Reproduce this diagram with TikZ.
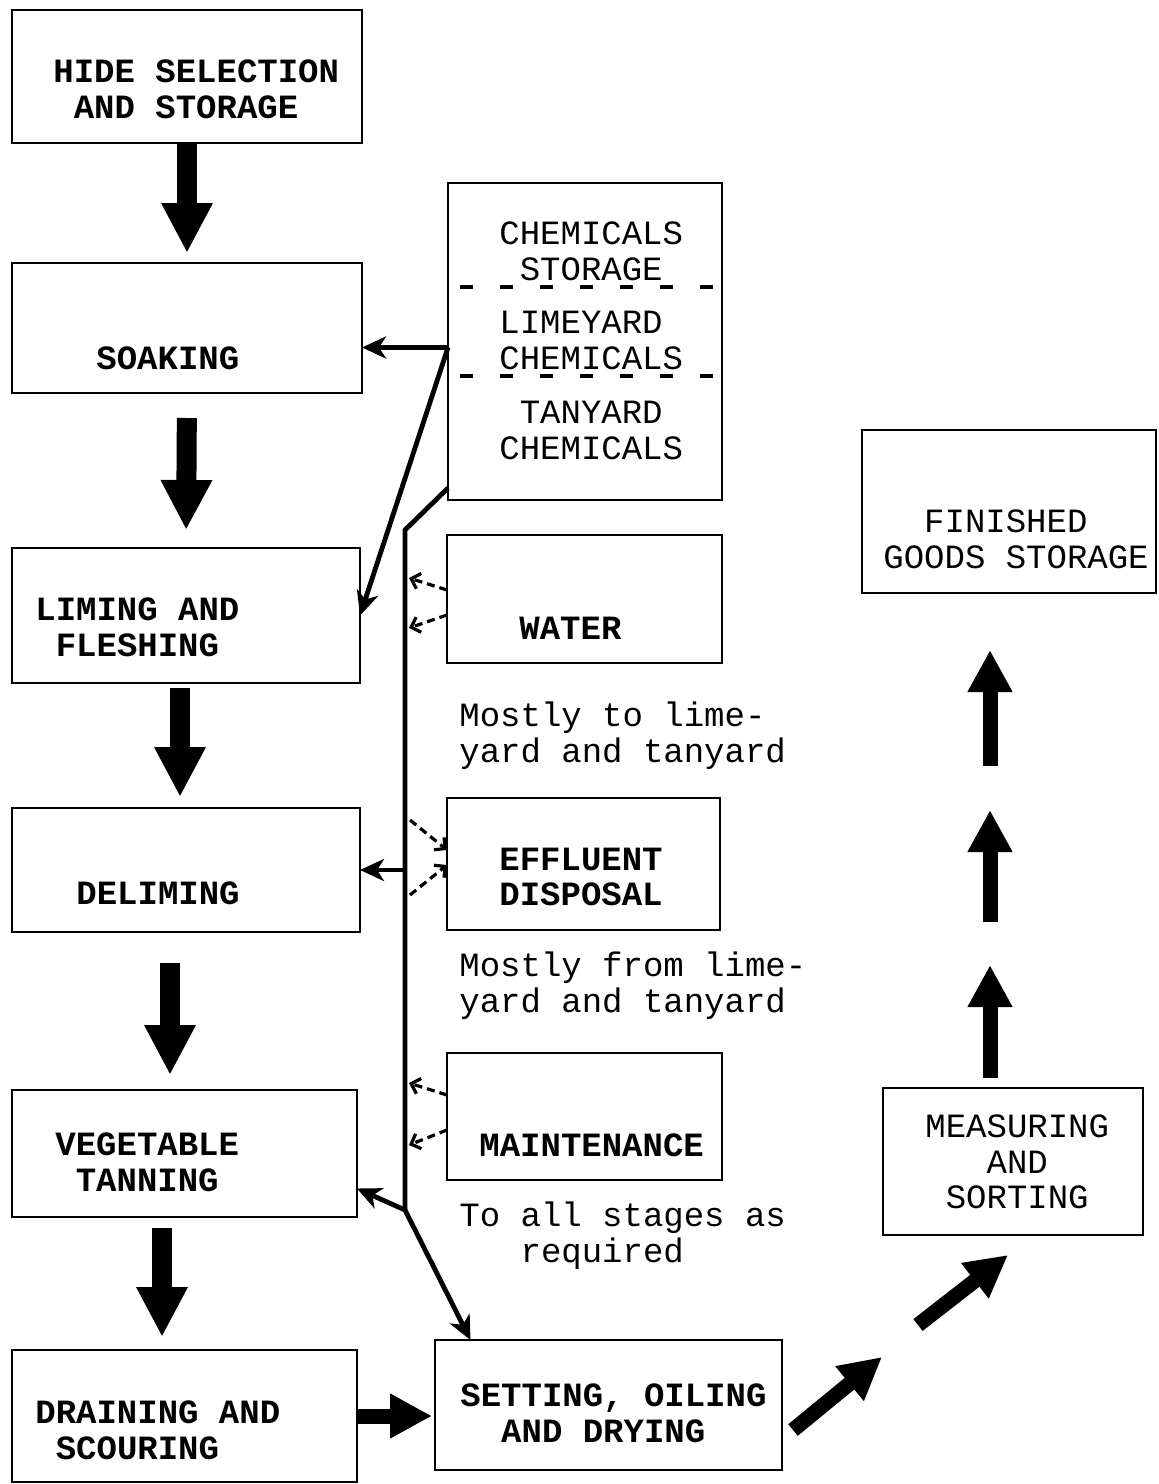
\documentclass[tikz,border=0pt]{standalone}
\usepackage{fontspec}
\setmonofont{Liberation Mono}
\usetikzlibrary{arrows.meta,calc}

\begin{document}
\begin{tikzpicture}[x=0.5pt,y=-0.5pt,
  box/.style={draw,line width=1.4pt,inner sep=0pt,outer sep=0pt},
  txt/.style={anchor=west,align=left,inner sep=0pt,font=\ttfamily\bfseries\fontsize{17}{17.8}\selectfont},
  lite/.style={txt,font=\ttfamily\fontsize{17}{17.8}\selectfont},
  feed/.style={line width=2.4pt,-{Stealth[length=12pt,width=11pt,inset=3.5pt]}},
  trunk/.style={line width=2.4pt},
  wet/.style={line width=1.6pt,dash pattern=on 4pt off 2.5pt,-{Straight Barb[length=4pt,width=8pt,line width=1.6pt]}},
  sep/.style={line width=2pt,dash pattern=on 6.5pt off 13.5pt,dash phase=14pt},
  fat/.style={line width=10pt,-{Triangle[length=25pt,width=24pt]}},
  slim/.style={line width=7.5pt,-{Triangle[length=21pt,width=21pt]}}]
\useasboundingbox (0,0) rectangle (1158,1484);

% main line of stages
\node[box,minimum width=175pt,minimum height=66.5pt] (hide) at (187,76.5) {};
\node[box,minimum width=175pt,minimum height=65pt] (soak) at (187,328) {};
\node[box,minimum width=174pt,minimum height=67.5pt] (lime) at (186,615.5) {};
\node[box,minimum width=174pt,minimum height=62pt] (delime) at (186,870) {};
\node[box,minimum width=172.5pt,minimum height=63.5pt] (veg) at (184.5,1153.5) {};
\node[box,minimum width=172.5pt,minimum height=66pt] (drain) at (184.5,1416) {};
\node[box,minimum width=173.5pt,minimum height=65pt] (set) at (608.5,1405) {};

% services
\node[box,minimum width=137pt,minimum height=158.5pt] (chem) at (585,341.5) {};
\node[box,minimum width=137.5pt,minimum height=64pt] (water) at (584.5,599) {};
\node[box,minimum width=136.5pt,minimum height=66pt] (eff) at (583.5,864) {};
\node[box,minimum width=137.5pt,minimum height=63.5pt] (maint) at (584.5,1116.5) {};

% finishing
\node[box,minimum width=147pt,minimum height=81.5pt] (fin) at (1009,511.5) {};
\node[box,minimum width=130pt,minimum height=73.5pt] (meas) at (1013,1161.5) {};

\node[txt] (hide-t) at (53,89.5) {HIDE SELECTION\\\hphantom{X}AND STORAGE};
\node[txt] (soak-t) at (96,358) {SOAKING};
\node[txt] (lime-t) at (35,627) {LIMING AND\\\hphantom{X}FLESHING};
\node[txt] (delime-t) at (76,893) {DELIMING};
\node[txt] (veg-t) at (55,1162) {VEGETABLE\\\hphantom{X}TANNING};
\node[txt] (drain-t) at (35,1430.5) {DRAINING AND\\\hphantom{X}SCOURING};
\node[txt] (set-t) at (460,1413.5) {SETTING, OILING\\\hphantom{XX}AND DRYING};
\node[lite] (chem-t1) at (499,251.5) {CHEMICALS\\\hphantom{X}STORAGE};
\node[lite] (chem-t2) at (499,340.5) {LIMEYARD\\CHEMICALS};
\node[lite] (chem-t3) at (499,430.5) {\hphantom{X}TANYARD\\CHEMICALS};
\node[txt] (water-t) at (519,628) {WATER};
\node[txt] (eff-t) at (499,877) {EFFLUENT\\DISPOSAL};
\node[txt] (maint-t) at (479,1145) {MAINTENANCE};
\node[lite] (fin-t) at (883,539) {\hphantom{XX}FINISHED\\GOODS STORAGE};
\node[lite] (meas-t) at (925,1162) {MEASURING\\\hphantom{XXX}AND\\\hphantom{X}SORTING};
\node[lite] (note1) at (459,735.5) {Mostly to lime-\\yard and tanyard};
\node[lite] (note2) at (459,985.5) {Mostly from lime-\\yard and tanyard};
\node[lite] (note3) at (459,1235.5) {To all stages as\\\hphantom{XXX}required};

\draw[sep] (chem.west |- 0,287) -- (chem.east |- 0,287);
\draw[sep] (chem.west |- 0,376) -- (chem.east |- 0,376);

% supply lines
\coordinate (tapA) at ([yshift=-3pt]chem.west);
\coordinate (top) at ([yshift=6pt]chem.south west);
\coordinate (bend) at (405,530);
\coordinate (hub) at (405,1210);
\coordinate (tapB) at (bend |- delime.east);
\draw[feed] (tapA) -- (soak.east |- tapA);
\draw[feed] (tapA) -- (lime.east);
\draw[trunk] (top) -- (bend) -- (hub);
\draw[feed] (tapB) -- (delime.east);
\draw[feed] (hub) -- ([yshift=-17.5pt]veg.east);
\draw[feed] (hub) -- ([xshift=-69pt]set.north);

\coordinate (w1) at (409,578);
\coordinate (w2) at (409,628);
\coordinate (e1) at (410,820);
\coordinate (e2) at (410,895);
\coordinate (m1) at (409,1083);
\coordinate (m2) at (409,1145);
\draw[wet] ([yshift=4.5pt]water.west) -- (w1);
\draw[wet] ([yshift=-8pt]water.west) -- (w2);
\draw[wet] (e1) -- ([yshift=7pt]eff.west);
\draw[wet] (e2) -- ([yshift=-0.5pt]eff.west);
\draw[wet] ([yshift=10.75pt]maint.west) -- (m1);
\draw[wet] ([yshift=-6.75pt]maint.west) -- (m2);

% flow of hides
\draw[fat,shorten >=5pt] (hide.south) -- (soak.north);
\draw[fat,shorten <=12.5pt,shorten >=9pt] (soak.south) -- (lime.north);
\draw[fat,shorten <=2.5pt,shorten >=5.5pt] ([xshift=-3pt]lime.south) -- ([xshift=-3pt]delime.north);
\draw[fat,shorten <=15.5pt,shorten >=7.5pt] ([xshift=-8pt]delime.south) -- ([xshift=-7.25pt]veg.north);
\draw[fat,shorten <=5.5pt,shorten >=6.5pt] ([xshift=-11.25pt]veg.south) -- ([xshift=-11.25pt]drain.north);
\draw[slim,shorten >=1.5pt] (drain.east) -- (drain.east -| set.west);
\draw[slim] ($(set.east)+(11,25)$) -- ($(meas.south)+(-131,122)$);
\draw[slim] ($(meas.south)+(-95,90)$) -- ($(meas.south)+(-5,20)$);
\foreach \a/\b in {10/123,166/278,322/438}
  \draw[slim] ($(meas.north)+(-23,-\a)$) -- ($(meas.north)+(-23,-\b)$);
\end{tikzpicture}
\end{document}
